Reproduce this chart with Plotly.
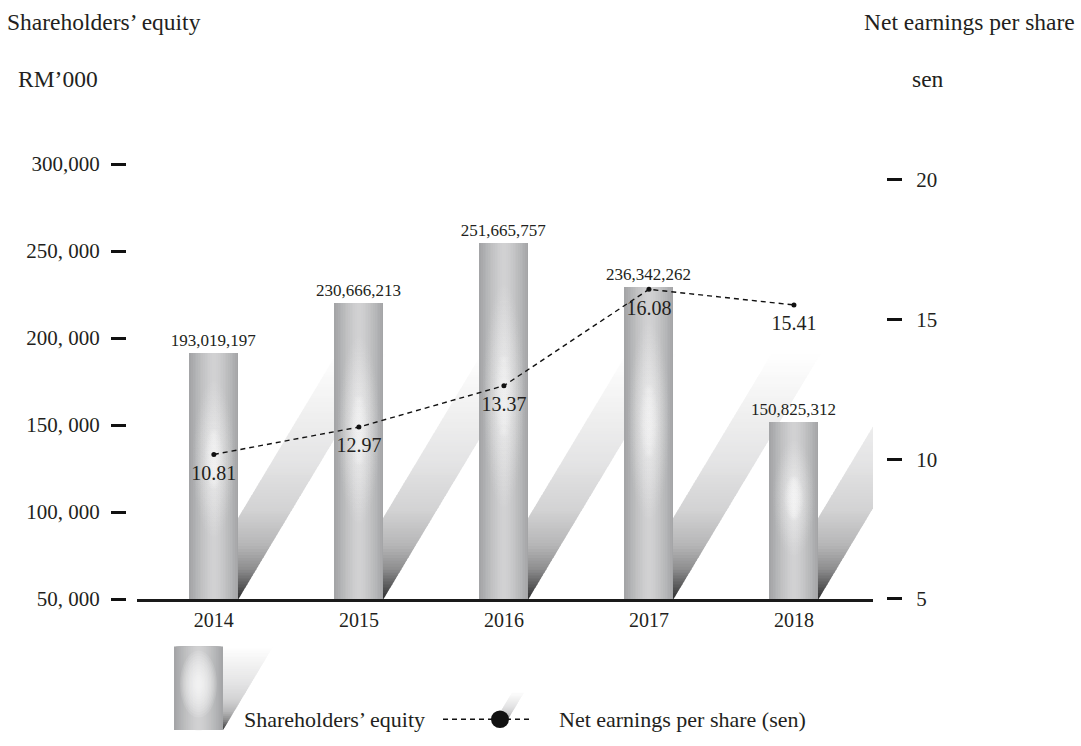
import plotly.graph_objects as go

# ---------------- data ----------------
years = ["2014", "2015", "2016", "2017", "2018"]
# bar heights as drawn against the left axis (RM'000)
equity_bar_rm000 = [191400, 220250, 254750, 229300, 151800]
# printed bar labels
equity_labels = ["193,019,197", "230,666,213", "251,665,757", "236,342,262", "150,825,312"]
# line point levels as drawn against the right axis (sen)
eps_plot_level = [10.17, 11.15, 12.63, 16.08, 15.52]
# printed point labels
eps_labels = ["10.81", "12.97", "13.37", "16.08", "15.41"]

left_tick_vals = [50000, 100000, 150000, 200000, 250000, 300000]
left_tick_text = ["50, 000", "100, 000", "150, 000", "200, 000", "250, 000", "300,000"]
right_tick_vals = [5, 10, 15, 20]
right_tick_text = ["5", "10", "15", "20"]

# ---------------- geometry ----------------
W, H = 1081, 746
PX0, PX1 = 137, 873
PY_BOT = 609
PX_PER_50K = 88.4
Y_RANGE = [49900, 315000]
PY_TOP = PY_BOT - (Y_RANGE[1] - Y_RANGE[0]) * PX_PER_50K / 50000
X_RANGE = [-0.53, 4.545]
Y2_PX_PER_UNIT = 28.4
Y2_RANGE = [4.99, 4.99 + (PY_BOT - PY_TOP) / Y2_PX_PER_UNIT]

xu = (X_RANGE[1] - X_RANGE[0]) / (PX1 - PX0)        # x units per px
yu = (Y_RANGE[1] - Y_RANGE[0]) / (PY_BOT - PY_TOP)  # y units per px
BAR_W = 49 * xu
SHEAR = 0.59
FONT = "Liberation Serif, Times New Roman, serif"
TXT = "#231f20"
xs = list(range(len(years)))


def px(x):
    return x / W


def py(y):
    return 1 - y / H


def rgb(c):
    return "rgb(%d,%d,%d)" % tuple(round(v) for v in c)


def lerp_color(stops, t):
    for (t0, c0), (t1, c1) in zip(stops, stops[1:]):
        if t <= t1:
            f = (t - t0) / (t1 - t0) if t1 > t0 else 0
            return rgb([a + (b - a) * f for a, b in zip(c0, c1)])
    return rgb(stops[-1][1])


EDGE = (164, 165, 167)
CENTER = (211, 211, 212)


def hcol(w):
    f = min(1.0, max(0.0, w)) ** 1.4
    return [c + (e - c) * f for c, e in zip(CENTER, EDGE)]


SHADOW_STOPS = [(0, (45, 45, 46)), (12, (85, 85, 86)), (30, (140, 140, 141)),
                (55, (182, 182, 183)), (90, (210, 210, 211)), (140, (228, 228, 229)),
                (190, (240, 240, 240)), (250, (255, 255, 255))]

fig = go.Figure()

# ---- bars: horizontal gradient via overlaid narrower bars ----
H_LAYERS = [1.0 - 0.07 * k for k in range(14)]
for k, wf in enumerate(H_LAYERS):
    fig.add_trace(go.Bar(
        x=xs, y=equity_bar_rm000, width=BAR_W * wf,
        marker=dict(color=rgb(hcol(wf)), line=dict(width=0)),
        text=equity_labels if k == 0 else None,
        textposition="outside" if k == 0 else "none",
        constraintext="none",
        textfont=dict(family=FONT, size=17, color=TXT),
        cliponaxis=False, hoverinfo="skip", showlegend=False,
    ))

# ---- soft glow on each bar: stacked radial-gradient markers ----
gx, gy, gs, gc = [], [], [], []
for x, v in zip(xs, equity_bar_rm000):
    h = v - 50000
    mid = 50000 + 0.57 * h
    ext = 0.30 * h
    n = max(9, int(2 * ext / yu / 6))
    for j in range(n):
        f = -1 + 2 * j / (n - 1)
        gx.append(x)
        gy.append(mid + f * ext)
        gs.append(12 + 32 * (1 - f * f) ** 0.6)
        gc.append("rgba(255,255,255,%.3f)" % (0.06 + 0.20 * (1 - f * f) ** 1.5))
    for j in range(9):
        f = -1 + 2 * j / 8
        gx.append(x)
        gy.append(mid + f * 0.10 * h)
        gs.append(12 + 10 * (1 - f * f))
        gc.append("rgba(255,255,255,0.4)")
fig.add_trace(go.Scatter(
    x=gx, y=gy, mode="markers", hoverinfo="skip", showlegend=False,
    marker=dict(size=gs, color="rgba(255,255,255,0)", line=dict(width=0),
                gradient=dict(type="radial", color=gc)),
))

# ---- line ----
fig.add_trace(go.Scatter(
    x=xs, y=eps_plot_level, yaxis="y2", mode="lines+markers",
    line=dict(color="#111", width=1.4, dash="5px,4px"),
    marker=dict(size=5, color="#111"),
    cliponaxis=False, hoverinfo="skip", showlegend=False,
))
# point labels (invisible larger marker to push the text below the point)
fig.add_trace(go.Scatter(
    x=xs, y=eps_plot_level, yaxis="y2", mode="markers+text",
    marker=dict(size=15, opacity=0),
    text=eps_labels, textposition="bottom center",
    textfont=dict(family=FONT, size=20, color=TXT),
    cliponaxis=False, hoverinfo="skip", showlegend=False,
))

shapes = []
# ---- bar shadows (sheared gradient parallelograms, below traces) ----
SH_MAX, SH_STEP = 250, 3
for x in xs:
    xl, xr = x - BAR_W / 2, x + BAR_W / 2
    for h0 in range(0, SH_MAX, SH_STEP):
        h1 = h0 + SH_STEP + 0.8
        c = lerp_color(SHADOW_STOPS, h0 + SH_STEP / 2)
        y0, y1 = Y_RANGE[0] + h0 * yu, Y_RANGE[0] + h1 * yu
        d0, d1 = SHEAR * h0 * xu, SHEAR * h1 * xu
        path = "M %f,%f L %f,%f L %f,%f L %f,%f Z" % (
            xl + d0, y0, xr + d0, y0, xr + d1, y1, xl + d1, y1)
        shapes.append(dict(type="path", path=path, xref="x", yref="y",
                           fillcolor=c, line=dict(width=0), layer="below"))

# ---- legend (paper coordinates) ----
LX0, LX1, LY0, LY1 = 174, 223, 657, 742
LEG_SH = 85
for h0 in range(0, LEG_SH, 2):
    h1 = h0 + 2.8
    c = lerp_color(SHADOW_STOPS, (h0 + 1) * 250 / LEG_SH)
    d0, d1 = SHEAR * h0, SHEAR * h1
    path = "M %f,%f L %f,%f L %f,%f L %f,%f Z" % (
        px(LX0 + d0), py(LY1 - h0), px(LX1 + d0), py(LY1 - h0),
        px(LX1 + d1), py(LY1 - h1), px(LX0 + d1), py(LY1 - h1))
    shapes.append(dict(type="path", path=path, xref="paper", yref="paper",
                       fillcolor=c, line=dict(width=0), layer="above"))
lw = LX1 - LX0
lcx = (LX0 + LX1) / 2
for wf in H_LAYERS:
    shapes.append(dict(type="rect", xref="paper", yref="paper",
                       x0=px(lcx - lw * wf / 2), x1=px(lcx + lw * wf / 2), y0=py(LY1), y1=py(LY0),
                       fillcolor=rgb(hcol(wf)), line=dict(width=0), layer="above"))
lh = LY1 - LY0
lmid = LY1 - 0.55 * lh
for k in range(12):
    t = 1 - k / 12
    rx, ry = 17 * t + 1.5, 32 * t + 2
    shapes.append(dict(type="circle", xref="paper", yref="paper",
                       x0=px(lcx - rx), x1=px(lcx + rx), y0=py(lmid + ry), y1=py(lmid - ry),
                       fillcolor="white", opacity=0.11, line=dict(width=0), layer="above"))
# legend line sample
LEG_Y = 731
shapes.append(dict(type="line", xref="paper", yref="paper", x0=px(443), x1=px(532),
                   y0=py(LEG_Y), y1=py(LEG_Y), line=dict(color="#111", width=1.5, dash="5px,4px"),
                   layer="above"))
for h0 in range(0, 26, 2):
    c = lerp_color(SHADOW_STOPS, 40 + h0 * 8)
    d0, d1 = SHEAR * h0, SHEAR * (h0 + 3)
    path = "M %f,%f L %f,%f L %f,%f L %f,%f Z" % (
        px(496 + d0), py(LEG_Y - h0), px(508 + d0), py(LEG_Y - h0),
        px(508 + d1), py(LEG_Y - h0 - 3), px(496 + d1), py(LEG_Y - h0 - 3))
    shapes.append(dict(type="path", path=path, xref="paper", yref="paper",
                       fillcolor=c, line=dict(width=0), layer="above"))
shapes.append(dict(type="circle", xref="paper", yref="paper", x0=px(491), x1=px(509),
                   y0=py(LEG_Y + 9), y1=py(LEG_Y - 9), fillcolor="#111",
                   line=dict(width=0), layer="above"))

annotations = [
    dict(text="Shareholders’ equity", x=px(242), y=py(LEG_Y), xanchor="left", yanchor="middle",
         font=dict(family=FONT, size=22, color=TXT)),
    dict(text="Net earnings per share (sen)", x=px(557), y=py(LEG_Y), xanchor="left",
         yanchor="middle", font=dict(family=FONT, size=22, color=TXT)),
    dict(text="Shareholders’ equity", x=px(5), y=py(22), xanchor="left", yanchor="middle",
         font=dict(family=FONT, size=23.5, color=TXT)),
    dict(text="RM’000", x=px(100), y=py(80), xanchor="right", yanchor="middle",
         font=dict(family=FONT, size=23.5, color=TXT)),
    dict(text="Net earnings per share", x=px(1077), y=py(22), xanchor="right", yanchor="middle",
         font=dict(family=FONT, size=23.5, color=TXT)),
    dict(text="sen", x=px(946), y=py(80), xanchor="right", yanchor="middle",
         font=dict(family=FONT, size=23.5, color=TXT)),
]
for a in annotations:
    a.update(xref="paper", yref="paper", showarrow=False)

fig.update_layout(
    width=W, height=H, margin=dict(l=0, r=0, t=0, b=0),
    paper_bgcolor="white", plot_bgcolor="white",
    barmode="overlay", bargap=0, showlegend=False,
    font=dict(family=FONT, color=TXT),
    shapes=shapes, annotations=annotations,
    xaxis=dict(domain=[px(PX0), px(PX1)], range=X_RANGE, tickvals=xs, ticktext=years,
               showgrid=False, zeroline=False, showline=True, linewidth=3, linecolor="#1a1a1a",
               ticks="", ticklabelstandoff=1, tickfont=dict(family=FONT, size=20, color=TXT),
               fixedrange=True),
    yaxis=dict(domain=[py(PY_BOT), py(PY_TOP)], range=Y_RANGE, anchor="free", position=px(126),
               tickvals=left_tick_vals, ticktext=left_tick_text, ticks="outside", ticklen=15,
               tickwidth=3, tickcolor="#111", showgrid=False, zeroline=False, showline=False,
               ticklabelstandoff=7, tickfont=dict(family=FONT, size=21, color=TXT)),
    yaxis2=dict(domain=[py(PY_BOT), py(PY_TOP)], range=Y2_RANGE, overlaying="y", side="right",
                anchor="free", position=px(886), tickvals=right_tick_vals,
                ticktext=right_tick_text, ticks="outside", ticklen=15, tickwidth=3,
                tickcolor="#111", showgrid=False, zeroline=False, showline=False,
                ticklabelstandoff=10, tickfont=dict(family=FONT, size=21, color=TXT)),
)

fig.write_html("out.html")
